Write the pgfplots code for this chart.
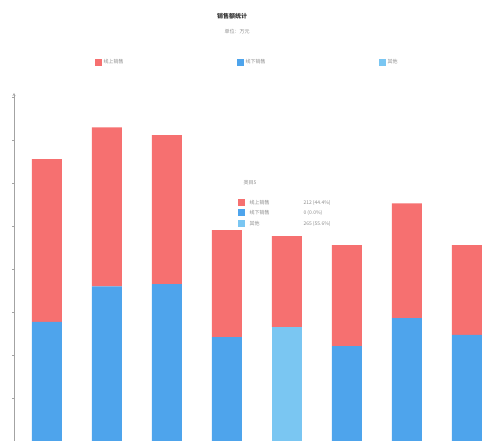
\documentclass[border=0pt]{standalone}
\usepackage{fontspec}
\usepackage{pgfplots}
\pgfplotsset{compat=1.18}
\newfontfamily\cjk{Noto Sans CJK SC}
\definecolor{cred}{RGB}{246,112,112}
\definecolor{cblue}{RGB}{78,164,236}
\definecolor{clblue}{RGB}{122,198,242}
\definecolor{ctext}{RGB}{140,140,140}
\begin{document}
\begin{tikzpicture}[x=1pt,y=1pt]
\path[use as bounding box] (-14,0) rectangle (478,441);
\begin{axis}[at={(0,0)}, anchor=south west, scale only axis,
  width=478pt, height=348pt,
  ybar stacked, bar width=30pt,
  xmin=-0.55, xmax=7.42, ymin=0, ymax=810,
  axis x line=none, axis y line=left,
  y axis line style={ctext!80},
  ytick={0,100,...,800}, yticklabels={}, xtick=\empty,
  major tick length=3pt, tick style={ctext!80},
  legend columns=3,
  legend image code/.code={\fill[#1] (0pt,-3.5pt) rectangle (7pt,3.5pt);},
  legend style={at={(rel axis cs:0.162,1.089)}, anchor=west, draw=none, fill=none,
    font=\cjk\fontsize{5}{6}\selectfont, text=ctext,
    /tikz/every even column/.append style={column sep=31pt}},
]
\addlegendimage{fill=cred, draw=none}
\addlegendentry{\makebox[100pt][l]{线上销售}}
\addlegendimage{fill=cblue, draw=none}
\addlegendentry{\makebox[100pt][l]{线下销售}}
\addlegendimage{fill=clblue, draw=none}
\addlegendentry{\makebox[100pt][l]{其他}}
\addplot[fill=cblue, draw=none, forget plot] coordinates {(0,277) (1,360) (2,365) (3,242) (4,0) (5,221) (6,286) (7,247)};
\addplot[fill=clblue, draw=none, forget plot] coordinates {(0,0) (1,0) (2,0) (3,0) (4,265) (5,0) (6,0) (7,0)};
\addplot[fill=cred, draw=none, forget plot] coordinates {(0,379) (1,370) (2,347) (3,249) (4,212) (5,235) (6,267) (7,209)};
\end{axis}
% title
\node[font=\cjk\fontsize{6}{7}\selectfont\bfseries, text=black!80] at (218,425) {销售额统计};
\node[font=\cjk\fontsize{5}{6}\selectfont, text=ctext] at (223,409) {单位：万元};
% tooltip
\begin{scope}[font=\cjk\fontsize{5}{6}\selectfont, text=ctext]
\node[anchor=west] at (226,258) {类目5};
\fill[cred] (224,234.5) rectangle (231,241.5);
\node[anchor=west] at (232,238) {线上销售};
\node[anchor=west] at (286,238) {212 (44.4\%)};
\fill[cblue] (224,224.5) rectangle (231,231.5);
\node[anchor=west] at (232,228) {线下销售};
\node[anchor=west] at (286,228) {0 (0.0\%)};
\fill[clblue] (224,213.5) rectangle (231,220.5);
\node[anchor=west] at (232,217) {其他};
\node[anchor=west] at (286,217) {265 (55.6\%)};
\end{scope}
\end{tikzpicture}
\end{document}
